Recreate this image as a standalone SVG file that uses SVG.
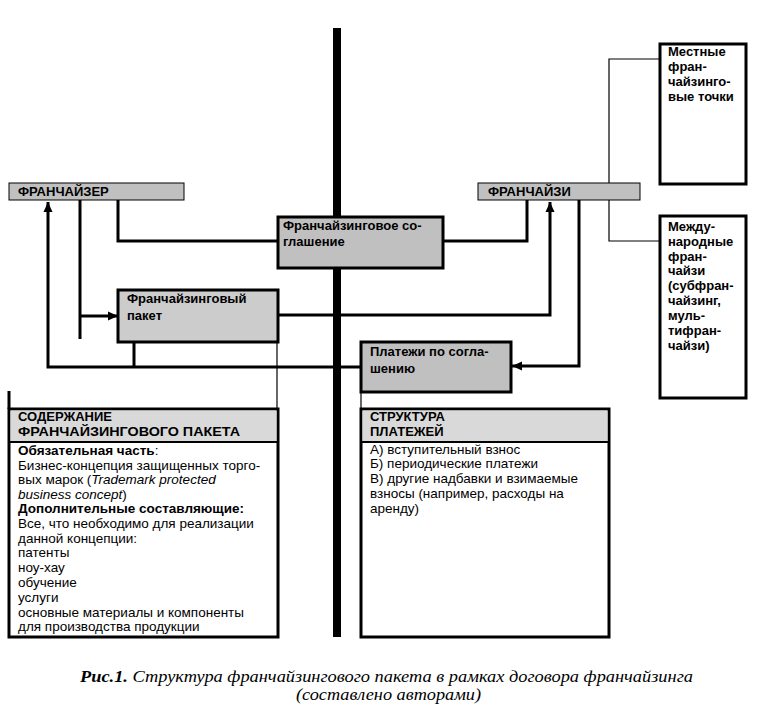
<svg xmlns="http://www.w3.org/2000/svg" width="780" height="717" viewBox="0 0 780 717">
<style>
.t{font-family:"Liberation Sans",Arial,sans-serif;font-size:13px;fill:#000}
.r{font-size:13.5px}
.b{font-weight:bold}
.tb{fill:#c0c0c0;stroke:#000;stroke-width:1}
.gb{fill:#c0c0c0;stroke:#000;stroke-width:3}
.wb{fill:#fff;stroke:#000;stroke-width:3}
.c{fill:none;stroke:#000;stroke-width:3}
.thin{fill:none;stroke:#000;stroke-width:1.2}
.cap{font-family:"Liberation Serif","Times New Roman",serif;font-size:16px;font-style:italic;fill:#000}
</style>
<defs>
<marker id="ah" markerUnits="userSpaceOnUse" markerWidth="10" markerHeight="10" viewBox="0 0 10 10" refX="10" refY="5" orient="auto">
<path d="M0,0.5 L10,5 L0,9.5 Z" fill="#000"/>
</marker>
</defs>
<rect width="780" height="717" fill="#fff"/>

<g id="connectors">
<polyline class="c" points="118,200 118,241 277,241"/>
<polyline class="c" points="527,200 527,241 443,241"/>
<line class="c" x1="80" y1="200" x2="80" y2="339"/>
<line class="c" x1="80" y1="316" x2="118" y2="316" marker-end="url(#ah)"/>
<polyline class="c" points="278,315 550,315 550,202" marker-end="url(#ah)"/>
<polyline class="c" points="579,200 579,366 512,366" marker-end="url(#ah)"/>
<polyline class="c" points="360,367 48,367 48,202" marker-end="url(#ah)"/>
<line class="c" x1="134" y1="342" x2="134" y2="367"/>
<line class="thin" x1="277" y1="342" x2="277" y2="409"/>
<line class="thin" x1="361" y1="392" x2="361" y2="409"/>
<line class="c" x1="9" y1="391" x2="9" y2="409"/>
<polyline class="thin" points="660,59 609,59 609,183"/>
<polyline class="thin" points="609,200 609,241 660,241"/>
</g>

<g id="axis">
<rect x="333" y="28" width="8" height="609" fill="#000"/>
</g>

<g id="franchisor">
<rect class="tb" x="9" y="183" width="175" height="17"/>
<text class="t b" x="18" y="196">ФРАНЧАЙЗЕР</text>
</g>

<g id="franchisee">
<rect class="tb" x="478" y="183" width="162" height="17"/>
<text class="t b" x="488" y="196">ФРАНЧАЙЗИ</text>
</g>

<g id="agreement">
<rect class="gb" x="278" y="217" width="165" height="51"/>
<text class="t b" x="283" y="230">Франчайзинговое со-</text>
<text class="t b" x="283" y="246">глашение</text>
</g>

<g id="package">
<rect class="gb" x="118" y="290" width="160" height="52" style="fill:#cccccc"/>
<text class="t b" x="127" y="303">Франчайзинговый</text>
<text class="t b" x="127" y="320">пакет</text>
</g>

<g id="payments">
<rect class="gb" x="361" y="342" width="150" height="50"/>
<text class="t b" x="370" y="356">Платежи по согла-</text>
<text class="t b" x="370" y="373">шению</text>
</g>

<g id="local">
<rect class="wb" x="660" y="44" width="86" height="140"/>
<text class="t b" x="668" y="56">Местные</text>
<text class="t b" x="668" y="71">фран-</text>
<text class="t b" x="668" y="86">чайзинго-</text>
<text class="t b" x="668" y="101">вые точки</text>
</g>

<g id="international">
<rect class="wb" x="660" y="216" width="86" height="182"/>
<text class="t b" x="668" y="231">Между-</text>
<text class="t b" x="668" y="246">народные</text>
<text class="t b" x="668" y="261">фран-</text>
<text class="t b" x="668" y="275">чайзи</text>
<text class="t b" x="668" y="290">(субфран-</text>
<text class="t b" x="668" y="305">чайзинг,</text>
<text class="t b" x="668" y="320">муль-</text>
<text class="t b" x="668" y="335">тифран-</text>
<text class="t b" x="668" y="350">чайзи)</text>
</g>

<g id="content">
<rect class="wb" x="9" y="409" width="269" height="228"/>
<rect x="10.5" y="410.5" width="266" height="31" fill="#d9d9d9"/>
<line x1="9" y1="442" x2="278" y2="442" stroke="#000" stroke-width="2"/>
<text class="t b" x="18" y="421">СОДЕРЖАНИЕ</text>
<text class="t b" x="18" y="436" textLength="222" lengthAdjust="spacingAndGlyphs">ФРАНЧАЙЗИНГОВОГО ПАКЕТА</text>
<text class="t r" x="18" y="455"><tspan class="b">Обязательная часть</tspan>:</text>
<text class="t r" x="18" y="470">Бизнес-концепция защищенных торго-</text>
<text class="t r" x="18" y="484">вых марок (<tspan font-style="italic">Trademark protected</tspan></text>
<text class="t r" x="18" y="499"><tspan font-style="italic">business concept</tspan>)</text>
<text class="t r b" x="18" y="513">Дополнительные составляющие:</text>
<text class="t r" x="18" y="528">Все, что необходимо для реализации</text>
<text class="t r" x="18" y="543">данной концепции:</text>
<text class="t r" x="18" y="557">патенты</text>
<text class="t r" x="18" y="572">ноу-хау</text>
<text class="t r" x="18" y="587">обучение</text>
<text class="t r" x="18" y="602">услуги</text>
<text class="t r" x="18" y="617">основные материалы и компоненты</text>
<text class="t r" x="18" y="631">для производства продукции</text>
</g>

<g id="payment-structure">
<rect class="wb" x="361" y="409" width="248" height="228"/>
<rect x="362.5" y="410.5" width="245" height="31" fill="#d9d9d9"/>
<line x1="361" y1="442" x2="609" y2="442" stroke="#000" stroke-width="2"/>
<text class="t b" x="370" y="421">СТРУКТУРА</text>
<text class="t b" x="370" y="436">ПЛАТЕЖЕЙ</text>
<text class="t r" x="370" y="454">А) вступительный взнос</text>
<text class="t r" x="370" y="468">Б) периодические платежи</text>
<text class="t r" x="370" y="483">В) другие надбавки и взимаемые</text>
<text class="t r" x="370" y="498">взносы (например, расходы на</text>
<text class="t r" x="370" y="513">аренду)</text>
</g>

<g id="caption">
<text class="cap" x="80" y="682" textLength="613" lengthAdjust="spacingAndGlyphs"><tspan font-weight="bold">Рис.1.</tspan> Структура франчайзингового пакета в рамках договора франчайзинга</text>
<text class="cap" x="296" y="700" textLength="185" lengthAdjust="spacingAndGlyphs">(составлено авторами)</text>
</g>
</svg>
